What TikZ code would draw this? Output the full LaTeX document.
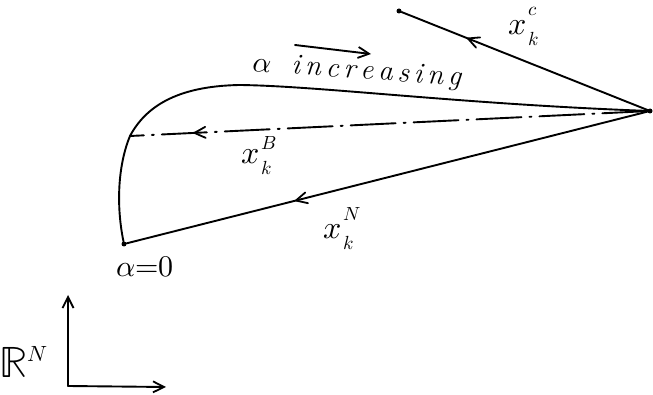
\documentclass[tikz,border=0pt]{standalone}
\usepackage{unicode-math}
\setmathfont{Latin Modern Math}
\usetikzlibrary{arrows.meta,decorations.markings}
\newcommand{\smallidx}[1]{{\fontsize{19}{21}\selectfont$#1$}}
\newcommand{\xlab}[3]{$x$\kern2pt\rlap{\raisebox{#3}{\smallidx{#1}}}\raisebox{-11pt}{\smallidx{#2}}}
\tikzset{
  stroke/.style={line width=1.9pt, line cap=round, line join=round},
  barb/.style={-{Straight Barb[length=11pt,width=11pt,line width=1.8pt]}},
  midarrow/.style={postaction={decorate}, decoration={markings,
     mark=at position #1 with {\draw[solid,line width=1.8pt,line cap=round] (-3pt,5.5pt) -- (8pt,0pt) -- (-3pt,-5.5pt);}}},
  dotpt/.style={circle, fill, inner sep=0pt, minimum size=5pt},
  lab/.style={inner sep=0pt, anchor=base west, font=\fontsize{32}{36}\selectfont},
  dashdot/.style={dash pattern=on 45pt off 8pt on 2pt off 8pt}
}
\begin{document}
\begin{tikzpicture}[x=1pt,y=-1pt]
\useasboundingbox (0,0) rectangle (653,395);
% key points
\node[dotpt] (P) at (650,111) {};
\node[dotpt] (T) at (399,11) {};
\node[dotpt] (A) at (124,244) {};
\coordinate (B) at (130,136);
% curve
\draw[stroke] (A) .. controls (116,205) and (118,165) .. (B)
  .. controls (145,108) and (175,86) .. (240,85)
  .. controls (320,86) and (460,104) .. (P);
% x^c line
\draw[stroke, midarrow=0.7] (P) -- (T);
% dash-dot x^B line
\draw[stroke, dashdot, midarrow=0.86] (P) -- (B);
% x^N line
\draw[stroke, midarrow=0.66] (P) -- (A);
% labels
\node[lab] (lc) at (508,35) {\xlab{c}{k}{19pt}};
\node[lab] (lb) at (241,164) {\xlab{B}{k}{14pt}};
\node[lab] (ln) at (323,239) {\xlab{N}{k}{18pt}};
\node[inner sep=0pt, font=\fontsize{30}{34}\selectfont] (a0) at (145,267) {$\alpha{=}0$};
% alpha increasing
\node[inner sep=0pt, rotate=-4, font=\fontsize{29}{34}\selectfont\itshape] (inc) at (357,72) {$\alpha$\ \ i\,n\,c\,r\,e\,a\,s\,i\,n\,g};
\coordinate (s1) at (295,45);
\coordinate (s2) at (371,54);
\draw[stroke, barb] (s1) -- (s2);
% axes
\coordinate (O) at (68,386);
\coordinate (Yax) at (68,295);
\coordinate (Xax) at (166,387);
\draw[stroke, barb] (O) -- (Yax);
\draw[stroke, barb] (O) -- (Xax);
\node[inner sep=0pt, font=\fontsize{44}{48}\selectfont] (RN) at (24,362) {$\mathbb{R}^{\scriptscriptstyle N}$};
\end{tikzpicture}
\end{document}
